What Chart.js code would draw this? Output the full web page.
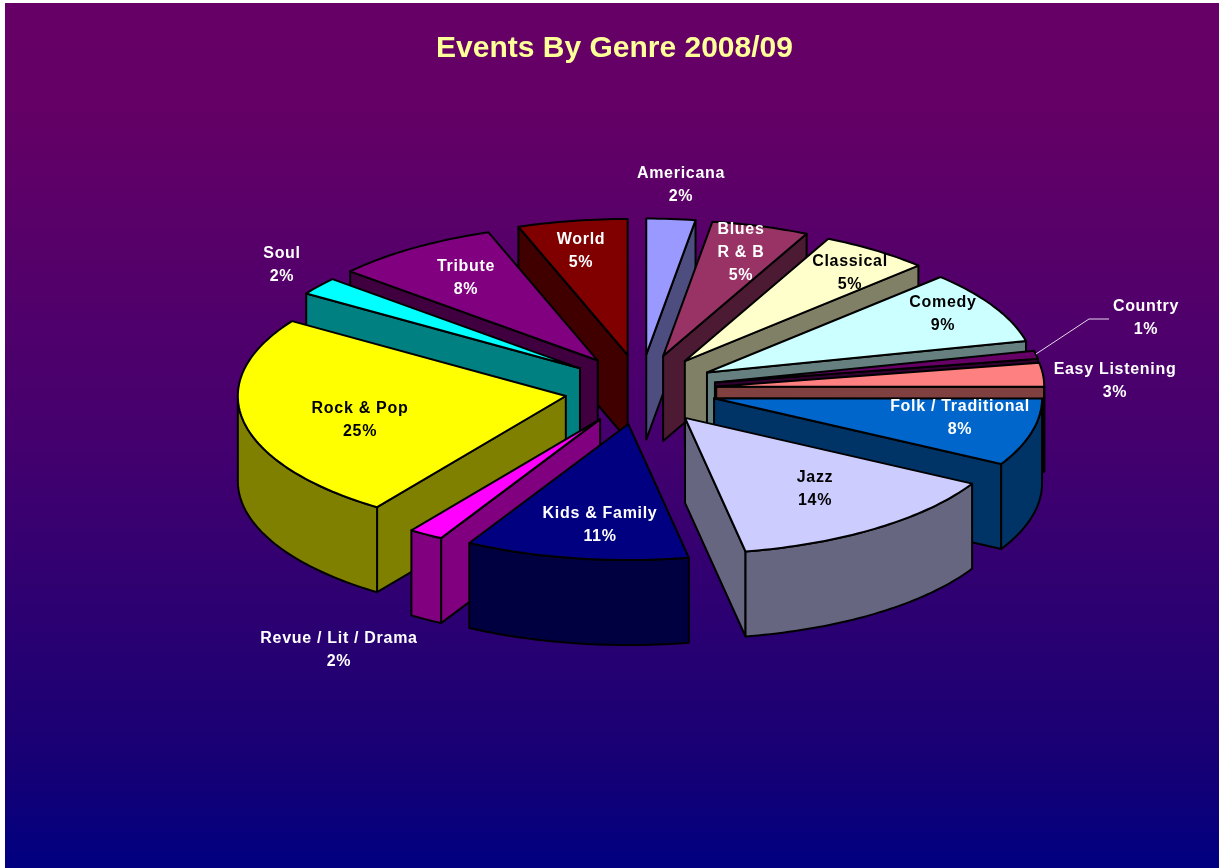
<!DOCTYPE html>
<html>
<head>
<meta charset="utf-8">
<title>Events By Genre 2008/09</title>
<style>
    html, body { margin: 0; padding: 0; background: #ffffff; }
    #wrap { position: relative; width: 1219px; height: 868px; }
</style>
<script src="https://cdn.jsdelivr.net/npm/chart.js@4/dist/chart.umd.js"></script>
</head>
<body>
<div id="wrap"><canvas id="chartCanvas" width="1219" height="868"></canvas></div>
<script>
// Valores
const genres = ["Americana", "Blues R & B", "Classical", "Comedy", "Country", "Easy Listening",
    "Folk / Traditional", "Jazz", "Kids & Family", "Revue / Lit / Drama", "Rock & Pop", "Soul", "Tribute", "World"];
const shares = [2.4, 4.8, 5.4, 8.65, 0.95, 2.8, 8.0, 14.0, 11.0, 1.7, 24.5, 2.1, 8.2, 5.4];

const topColors = ["#9999FF", "#993366", "#FFFFCC", "#CCFFFF", "#660066", "#FF8080", "#0066CC",
    "#CCCCFF", "#000080", "#FF00FF", "#FFFF00", "#00FFFF", "#800080", "#800000"];
const wallColors = ["#4D4D80", "#4D1A33", "#808066", "#668080", "#330033", "#804040", "#003366",
    "#666680", "#000040", "#800080", "#808000", "#008080", "#400040", "#400000"];

// Lineas de cada etiqueta (el nombre largo de Blues va en dos)
const labelLines = [["Americana"], ["Blues", "R & B"], ["Classical"], ["Comedy"], ["Country"], ["Easy Listening"],
    ["Folk / Traditional"], ["Jazz"], ["Kids & Family"], ["Revue / Lit / Drama"], ["Rock & Pop"], ["Soul"], ["Tribute"], ["World"]];
const labelColors = ["#fff", "#fff", "#000", "#000", "#fff", "#fff", "#fff", "#000", "#fff", "#fff", "#000", "#fff", "#fff", "#fff"];
const labelSpots = [[681, 174], [741, 230], [850, 262], [943, 303], [1146, 307], [1115, 370], [960, 407],
    [815, 478], [600, 514], [339, 639], [360, 409], [282, 254], [466, 267], [581, 240]];

// Proyeccion del pastel
const pieX = 640.5;
const pieY = 389.5;
const squash = 136 / 328;
const offsetSquash = 35 / 76;
const depth = 85;

function arcPoint(el, angle) {
    const mid = (el.startAngle + el.endAngle) / 2;
    const off = el.options.offset;
    return {
        x: pieX + Math.cos(mid) * off + Math.cos(angle) * el.outerRadius,
        y: pieY + Math.sin(mid) * off * offsetSquash + Math.sin(angle) * el.outerRadius * squash
    };
}

function tipPoint(el) {
    const mid = (el.startAngle + el.endAngle) / 2;
    const off = el.options.offset;
    return {
        x: pieX + Math.cos(mid) * off,
        y: pieY + Math.sin(mid) * off * offsetSquash
    };
}

function arcRange(el, from, to) {
    const pts = [];
    const steps = Math.max(2, Math.ceil((to - from) / 0.02));
    for (let i = 0; i <= steps; i++) {
        pts.push(arcPoint(el, from + (to - from) * i / steps));
    }
    return pts;
}

function fillPoly(ctx, pts, color) {
    ctx.beginPath();
    pts.forEach((p, i) => {
        if (i === 0) ctx.moveTo(p.x, p.y);
        else ctx.lineTo(p.x, p.y);
    });
    ctx.closePath();
    ctx.fillStyle = color;
    ctx.fill();
    ctx.stroke();
}

function down(pts) {
    return pts.map(p => ({ x: p.x, y: p.y + depth })).reverse();
}

function drawSlice(ctx, el, index) {
    const tip = tipPoint(el);
    const wall = wallColors[index];

    // paredes radiales que miran hacia el frente
    if (Math.cos(el.startAngle) < 0) {
        const edge = [tip, arcPoint(el, el.startAngle)];
        fillPoly(ctx, edge.concat(down(edge)), wall);
    }
    if (Math.cos(el.endAngle) > 0) {
        const edge = [tip, arcPoint(el, el.endAngle)];
        fillPoly(ctx, edge.concat(down(edge)), wall);
    }

    // pared exterior, solo la parte delantera del arco
    const from = Math.max(el.startAngle, 0);
    const to = Math.min(el.endAngle, Math.PI);
    if (to > from) {
        const band = arcRange(el, from, to);
        fillPoly(ctx, band.concat(down(band)), wall);
    }

    fillPoly(ctx, [tip].concat(arcRange(el, el.startAngle, el.endAngle)), topColors[index]);
}

const backgroundPlugin = {
    id: "backgroundPlugin",
    beforeDraw(chart) {
        const ctx = chart.ctx;
        const grad = ctx.createLinearGradient(0, 3, 0, chart.height);
        grad.addColorStop(0, "#660066");
        grad.addColorStop(0.12, "#640066");
        grad.addColorStop(0.5, "#45006E");
        grad.addColorStop(0.87, "#180074");
        grad.addColorStop(1, "#000080");
        ctx.save();
        ctx.fillStyle = grad;
        ctx.fillRect(5, 3, chart.width - 5, chart.height - 3);
        ctx.restore();
    }
};

const piePlugin = {
    id: "piePlugin",
    beforeDatasetsDraw(chart) {
        const ctx = chart.ctx;
        const arcs = chart.getDatasetMeta(0).data;
        // primero las porciones de atras
        const order = arcs.map((el, i) => i).sort((a, b) => tipPoint(arcs[a]).y - tipPoint(arcs[b]).y);
        ctx.save();
        ctx.strokeStyle = "#000";
        ctx.lineWidth = 2;
        ctx.lineJoin = "round";
        order.forEach(i => drawSlice(ctx, arcs[i], i));
        ctx.restore();
        return false;
    },
    afterDraw(chart) {
        const ctx = chart.ctx;
        ctx.save();

        // guia de Country
        ctx.strokeStyle = "#E6D8EC";
        ctx.lineWidth = 1;
        ctx.beginPath();
        ctx.moveTo(1036, 354);
        ctx.lineTo(1089, 319);
        ctx.lineTo(1109, 319);
        ctx.stroke();

        ctx.font = "bold 16px 'Liberation Sans', Arial, sans-serif";
        ctx.letterSpacing = "0.7px";
        ctx.textAlign = "center";
        ctx.textBaseline = "middle";
        genres.forEach((genre, i) => {
            const lines = labelLines[i].concat([Math.round(shares[i]) + "%"]);
            ctx.fillStyle = labelColors[i];
            lines.forEach((line, n) => {
                ctx.fillText(line, labelSpots[i][0], labelSpots[i][1] + n * 23);
            });
        });
        ctx.restore();
    }
};

const chart = new Chart(document.getElementById("chartCanvas").getContext("2d"), {
    type: "pie",
    data: {
        labels: genres,
        datasets: [{
            data: shares,
            backgroundColor: topColors,
            borderColor: "#000",
            offset: 76,
            radius: 328
        }]
    },
    options: {
        responsive: false,
        animation: false,
        layout: { padding: { left: 10 } },
        plugins: {
            legend: { display: false },
            tooltip: { enabled: false },
            title: {
                display: true,
                text: "Events By Genre 2008/09",
                color: "#FFFF99",
                font: { family: "'Liberation Sans', Arial, sans-serif", size: 30, weight: "bold" },
                padding: { top: 31, bottom: 10 }
            }
        }
    },
    plugins: [backgroundPlugin, piePlugin]
});
</script>
</body>
</html>
